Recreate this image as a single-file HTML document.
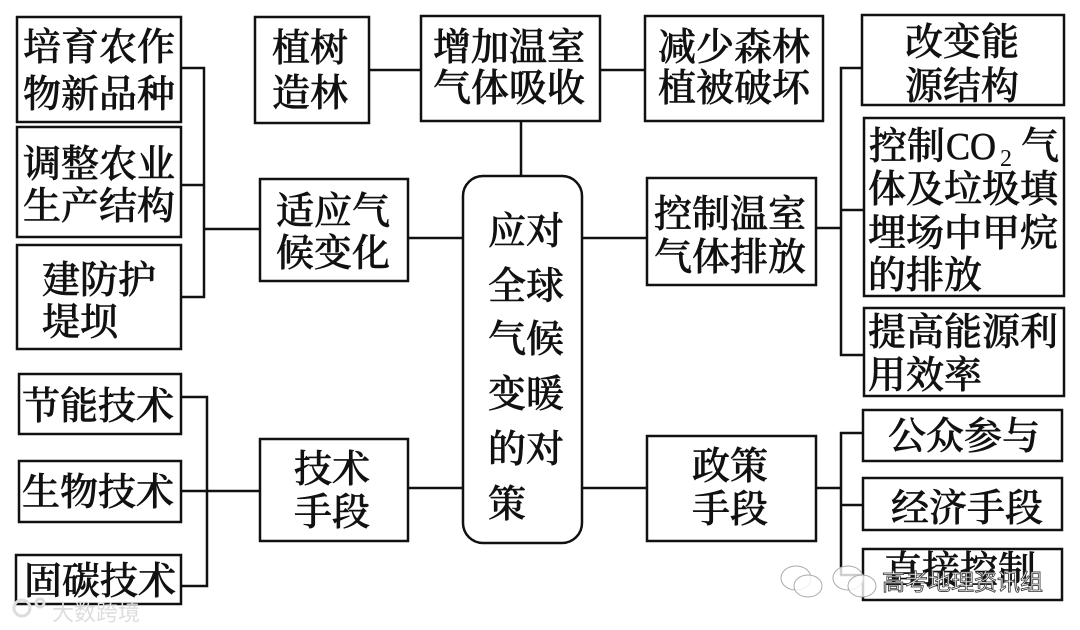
<!DOCTYPE html>
<html lang="zh"><head><meta charset="utf-8"><style>
html,body{margin:0;padding:0;background:#fff;width:1080px;height:630px;overflow:hidden}
svg{display:block}
text{font-family:"Liberation Serif","Noto Serif CJK SC",serif;font-size:38px;fill:#111;stroke:#111;stroke-width:.6;font-weight:500;dominant-baseline:central}
.b rect{fill:#fff;stroke:#111;stroke-width:2.5}
.l path{fill:none;stroke:#111;stroke-width:2.5}
</style></head><body>
<svg width="1080" height="630" viewBox="0 0 1080 630" xmlns="http://www.w3.org/2000/svg">
<g class="l"><path d="M181 68H204V297H181M181 185H204M204 229H260"/>
<path d="M181 397H207V586H181M181 491H260"/>
<path d="M408 238H463M408 488H463M369 70H421M600 70H645M521 121V176M582 238H647M582 488H647"/>
<path d="M816 228H841M862 68H841V355H864M841 210H864"/>
<path d="M816 488H841M863 433H841V575H863M841 505H863"/></g>
<g class="b">
<rect x="17" y="17" width="164" height="105"/><rect x="17" y="127" width="164" height="110"/><rect x="17" y="245" width="164" height="104"/>
<rect x="19" y="374" width="162" height="60"/><rect x="19" y="461" width="162" height="61"/><rect x="16" y="555" width="165" height="49"/>
<rect x="260" y="179" width="148" height="102"/><rect x="260" y="439" width="148" height="102"/>
<rect x="255" y="17" width="114" height="106"/><rect x="421" y="16" width="179" height="105"/><rect x="645" y="16" width="178" height="105"/>
<rect x="463" y="176" width="119" height="367" rx="20"/>
<rect x="647" y="178" width="169" height="107"/><rect x="647" y="436" width="169" height="105"/>
<rect x="862" y="15" width="202" height="90"/><rect x="864" y="118" width="200" height="178"/><rect x="864" y="308" width="200" height="88"/>
<rect x="863" y="410" width="199" height="51"/><rect x="863" y="478" width="199" height="52"/><rect x="863" y="549" width="199" height="51"/>
</g>
<text x="23" y="48">培育农作</text><text x="23" y="95">物新品种</text>
<text x="23" y="165">调整农业</text><text x="23" y="207">生产结构</text>
<text x="42" y="281">建防护</text><text x="42" y="323">堤坝</text>
<text x="22" y="407">节能技术</text><text x="22" y="493">生物技术</text><text x="24" y="582">固碳技术</text>
<text x="276" y="212">适应气</text><text x="276" y="254">候变化</text>
<text x="294" y="470">技术</text><text x="294" y="513">手段</text>
<text x="272" y="49">植树</text><text x="272" y="94">造林</text>
<text x="433" y="48">增加温室</text><text x="433" y="89">气体吸收</text>
<text x="658" y="48">减少森林</text><text x="658" y="89">植被破坏</text>
<text x="488" y="232">应对</text><text x="488" y="287">全球</text><text x="488" y="340">气候</text><text x="488" y="395">变暖</text><text x="488" y="450">的对</text><text x="488" y="505">策</text>
<text x="654" y="215">控制温室</text><text x="654" y="258">气体排放</text>
<text x="692" y="467">政策</text><text x="692" y="510">手段</text>
<text x="905" y="43">改变能</text><text x="905" y="87">源结构</text>
<text x="869" y="147">控制</text><text x="946" y="147" textLength="50" lengthAdjust="spacingAndGlyphs">CO</text><text x="1000" y="159" style="font-size:24px;stroke-width:0">2</text><text x="1021" y="147">气</text>
<text x="868" y="190">体及垃圾填</text><text x="868" y="234">埋场中甲烷</text><text x="868" y="276">的排放</text>
<text x="868" y="333">提高能源利</text><text x="868" y="376">用效率</text>
<text x="888" y="437">公众参与</text><text x="891" y="509">经济手段</text>
<text x="884" y="571">直接控制</text>
<g fill="#fff" fill-opacity=".8" stroke="#aaa" stroke-width="1"><ellipse cx="796" cy="578" rx="15" ry="12"/><ellipse cx="808" cy="586" rx="14" ry="11"/><ellipse cx="848" cy="578" rx="15" ry="12"/><ellipse cx="862" cy="586" rx="14" ry="11"/></g>
<text x="882" y="582" style="font-family:'Liberation Sans','Noto Sans CJK SC',sans-serif;font-size:23px;fill:#fff;stroke:#333;stroke-width:.8;font-weight:400">高考地理资讯组</text>
<g fill="none" stroke="#ddd" stroke-width="3"><circle cx="22" cy="608" r="8"/><circle cx="40" cy="603" r="4"/></g>
<text x="52" y="613" style="font-family:'Liberation Sans','Noto Sans CJK SC',sans-serif;font-size:22px;fill:#ddd;stroke-width:0;font-weight:400">大数跨境</text>
</svg></body></html>
